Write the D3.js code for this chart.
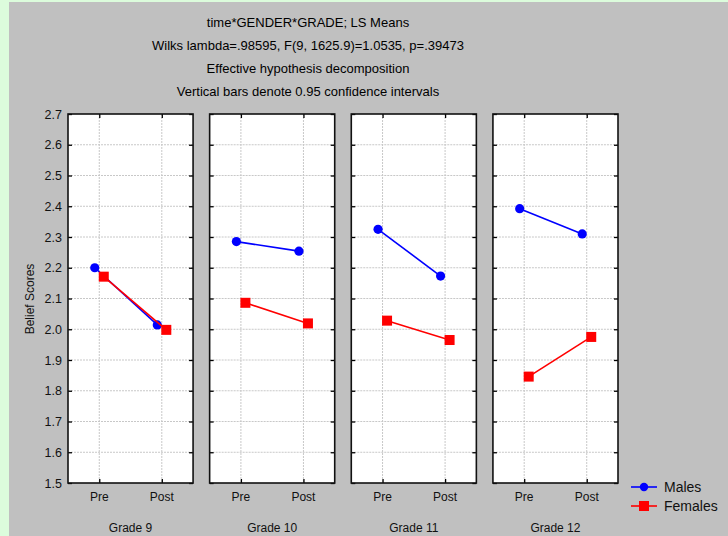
<!DOCTYPE html>
<html>
<head>
<meta charset="utf-8">
<script src="https://cdn.jsdelivr.net/npm/d3@7"></script>
<style>
  html, body { margin: 0; padding: 0; background: #dcfcdc; }
  svg { display: block; font-family: "Liberation Sans", Arial, sans-serif; }
</style>
</head>
<body>
<svg id="chart" width="728" height="536"></svg>
<script>
// LS means of belief scores by time, gender and grade
const grades = ["Grade 9", "Grade 10", "Grade 11", "Grade 12"];
const times = ["Pre", "Post"];
const genders = ["Males", "Females"];
const malesPre   = [2.200, 2.285, 2.325, 2.392];
const malesPost  = [2.014, 2.254, 2.173, 2.310];
const femalesPre  = [2.171, 2.086, 2.028, 1.846];
const femalesPost = [1.998, 2.019, 1.965, 1.975];
const yTicks = [1.5, 1.6, 1.7, 1.8, 1.9, 2.0, 2.1, 2.2, 2.3, 2.4, 2.5, 2.6, 2.7];
const titles = [
  "time*GENDER*GRADE; LS Means",
  "Wilks lambda=.98595, F(9, 1625.9)=1.0535, p=.39473",
  "Effective hypothesis decomposition",
  "Vertical bars denote 0.95 confidence intervals"
];
const yLabel = "Belief Scores";

const colors = { Males: "#0000ff", Females: "#ff0000" };
const offsets = { Males: -4.5, Females: 4.5 };

const svg = d3.select("#chart");

// grey canvas
svg.append("rect").attr("x", 9).attr("y", 2).attr("width", 719).attr("height", 534)
  .attr("fill", "#c0c0c0");

// titles
svg.append("g").selectAll("text").data(titles).join("text")
  .attr("x", 308).attr("y", (d, i) => 27 + i * 23)
  .attr("text-anchor", "middle").attr("font-size", 13).attr("fill", "#000")
  .text(d => d);

const plotTop = 114, plotBottom = 483;
const y = d3.scaleLinear().domain([1.5, 2.7]).range([plotBottom, plotTop]);
const gx = d3.scaleBand().domain(grades).range([68, 618]).paddingInner(0.117);
const bw = gx.bandwidth();
const tx = d3.scalePoint().domain(times).range([0, bw]).padding(0.5);

const series = {
  Males: grades.map((g, i) => [malesPre[i], malesPost[i]]),
  Females: grades.map((g, i) => [femalesPre[i], femalesPost[i]])
};

grades.forEach((grade, gi) => {
  const g = svg.append("g").attr("transform", `translate(${gx(grade)},0)`);
  g.append("rect").attr("x", 0).attr("y", plotTop).attr("width", bw).attr("height", plotBottom - plotTop)
    .attr("fill", "#fff");

  // grid
  g.append("g").selectAll("line").data(yTicks.slice(1, -1)).join("line")
    .attr("x1", 0).attr("x2", bw).attr("y1", d => y(d)).attr("y2", d => y(d))
    .attr("stroke", "#c8c8c8").attr("stroke-dasharray", "2,1");
  g.append("g").selectAll("line").data(times).join("line")
    .attr("x1", d => tx(d)).attr("x2", d => tx(d)).attr("y1", plotTop).attr("y2", plotBottom)
    .attr("stroke", "#c8c8c8").attr("stroke-dasharray", "2,1");

  // inner ticks on all four sides
  const yL = d3.axisRight(y).tickValues(yTicks).tickSize(4).tickFormat("");
  const yR = d3.axisLeft(y).tickValues(yTicks).tickSize(4).tickFormat("");
  g.append("g").call(yL).call(a => a.select(".domain").remove());
  g.append("g").attr("transform", `translate(${bw},0)`).call(yR).call(a => a.select(".domain").remove());
  const xB = d3.axisTop(tx).tickSize(4).tickFormat("");
  const xT = d3.axisBottom(tx).tickSize(4).tickFormat("");
  g.append("g").attr("transform", `translate(0,${plotBottom})`).call(xB).call(a => a.select(".domain").remove());
  g.append("g").attr("transform", `translate(0,${plotTop})`).call(xT).call(a => a.select(".domain").remove());
  g.selectAll(".tick line").attr("stroke", "#000").attr("stroke-width", 1.3);

  // frame
  g.append("rect").attr("x", 0).attr("y", plotTop).attr("width", bw).attr("height", plotBottom - plotTop)
    .attr("fill", "none").attr("stroke", "#111").attr("stroke-width", 1.6);

  // x tick labels
  g.append("g").selectAll("text").data(times).join("text")
    .attr("x", d => tx(d)).attr("y", plotBottom + 18).attr("text-anchor", "middle")
    .attr("font-size", 12).attr("fill", "#111").text(d => d);
  g.append("text").attr("x", bw / 2).attr("y", plotBottom + 49).attr("text-anchor", "middle")
    .attr("font-size", 12).attr("fill", "#111").text(grade);

  // series lines and markers
  genders.forEach(gen => {
    const vals = series[gen][gi];
    const pts = times.map((t, ti) => [tx(t) + offsets[gen], y(vals[ti])]);
    g.append("path").attr("d", d3.line()(pts)).attr("fill", "none")
      .attr("stroke", colors[gen]).attr("stroke-width", 1.6);
    if (gen === "Males") {
      g.append("g").selectAll("circle").data(pts).join("circle")
        .attr("cx", d => d[0]).attr("cy", d => d[1]).attr("r", 4.6).attr("fill", colors[gen]);
    } else {
      g.append("g").selectAll("rect").data(pts).join("rect")
        .attr("x", d => d[0] - 5).attr("y", d => d[1] - 5).attr("width", 10).attr("height", 10)
        .attr("fill", colors[gen]);
    }
  });
});

// y axis labels on the first panel
const yAxis = d3.axisLeft(y).tickValues(yTicks).tickSize(0).tickPadding(6).tickFormat(d3.format(".1f"));
svg.append("g").attr("transform", `translate(${gx(grades[0])},0)`).call(yAxis)
  .call(a => a.select(".domain").remove())
  .call(a => a.selectAll("text").attr("font-size", 12.5).attr("fill", "#111")
    .attr("font-family", "'Liberation Sans', Arial, sans-serif"));

svg.append("text").attr("transform", "translate(34,299) rotate(-90)")
  .attr("text-anchor", "middle").attr("font-size", 12).attr("fill", "#111").text(yLabel);

// legend
const leg = svg.append("g").attr("transform", "translate(631,0)");
genders.forEach((gen, i) => {
  const ly = 487 + i * 19;
  leg.append("line").attr("x1", 0).attr("x2", 26).attr("y1", ly).attr("y2", ly)
    .attr("stroke", colors[gen]).attr("stroke-width", 1.6);
  if (gen === "Males") {
    leg.append("circle").attr("cx", 13).attr("cy", ly).attr("r", 4.2).attr("fill", colors[gen]);
  } else {
    leg.append("rect").attr("x", 8).attr("y", ly - 5).attr("width", 10).attr("height", 10).attr("fill", colors[gen]);
  }
  leg.append("text").attr("x", 33).attr("y", ly + 5).attr("font-size", 14).attr("fill", "#111").text(gen);
});
</script>
</body>
</html>
